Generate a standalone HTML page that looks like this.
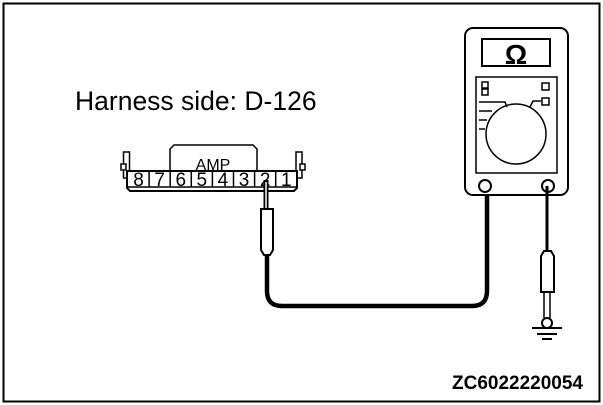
<!DOCTYPE html>
<html><head><meta charset="utf-8"><style>
html,body{margin:0;padding:0;background:#fff;}
svg{display:block;}
text{font-family:"Liberation Sans",Arial,sans-serif;}
</style></head><body>
<svg width="603" height="405" viewBox="0 0 603 405">
<rect x="3.5" y="3.5" width="596" height="398" fill="#fff" stroke="#000" stroke-width="2"/>
<text x="75" y="110" font-size="26.5">Harness side: D-126</text>
<text x="452" y="389" font-size="19" font-weight="bold">ZC6022220054</text>

<g fill="none" stroke="#000" stroke-width="1.5">
  <path d="M170 171 V149 L174 145 H253 L257 149 V171" />
  <rect x="123.5" y="152" width="6" height="26" fill="#fff"/>
  <rect x="296" y="152" width="6" height="26" fill="#fff"/>
  <rect x="121" y="164" width="5" height="6" fill="#fff"/>
  <rect x="300" y="164" width="5" height="6" fill="#fff"/>
  <path d="M127 171 H297 V188 L294 191 H130 L127 188 Z" fill="#fff" stroke-width="2"/>
  <line x1="128" y1="187" x2="296" y2="187"/>
</g>
<text x="213" y="170" style="font-size:16px" text-anchor="middle">AMP</text>
<g id="pins"></g>

<g fill="none" stroke="#000">
  <line x1="266" y1="180" x2="266" y2="208" stroke-width="5"/>
  <line x1="266" y1="182" x2="266" y2="208" stroke="#fff" stroke-width="1.5"/>
  <path d="M261 209 H273 V250 L270 255 H264 L261 250 Z" fill="#fff" stroke-width="2"/>
  <path d="M267 255 V291 Q267 306 282 306 H472 Q487 306 487 291 V186" stroke-width="4.5"/>
</g>

<g fill="none" stroke="#000" stroke-width="2">
  <rect x="465" y="28" width="103" height="167" rx="8" fill="#fff"/>
  <rect x="482" y="39" width="68" height="27"/>
  <text x="516" y="64" font-size="28" font-weight="bold" text-anchor="middle" fill="#000" stroke="none">Ω</text>
  <rect x="476" y="77" width="81" height="96" stroke-width="1.5"/>
  <rect x="482" y="82" width="6" height="6" stroke-width="1.5"/>
  <rect x="482" y="89" width="6" height="6" stroke-width="1.5"/>
  <rect x="542" y="83" width="7" height="7" stroke-width="1.5"/>
  <rect x="542" y="98" width="7" height="7" stroke-width="1.5"/>
  <path d="M479 102 H505 L507 107 M541 101 H533 L530 107 M479 111 H492 M479 120 H487 M479 129 H485" stroke-width="1.5"/>
  <circle cx="516" cy="134" r="30" stroke-width="1.5"/>
  <circle cx="485" cy="186" r="6" fill="#fff"/>
  <circle cx="548" cy="186" r="6" fill="#fff"/>
</g>

<g fill="none" stroke="#000">
  <line x1="547" y1="186" x2="547" y2="251" stroke-width="3"/>
  <path d="M541 256 L544 251 H551 L554 256 V292 H541 Z" fill="#fff" stroke-width="2"/>
  <line x1="544" y1="292" x2="544" y2="318" stroke-width="1.5"/>
  <line x1="550" y1="292" x2="550" y2="318" stroke-width="1.5"/>
  <circle cx="547" cy="323" r="5" fill="#fff" stroke-width="2"/>
  <line x1="532" y1="328" x2="562" y2="328" stroke-width="2"/>
  <line x1="537" y1="334" x2="557" y2="334" stroke-width="2"/>
  <line x1="542" y1="339" x2="552" y2="339" stroke-width="2"/>
</g>
<script>
const pinLabels = ["8","7","6","5","4","3","2","1"];
const g = document.getElementById('pins');


const x0 = 128, w = 21.1;
pinLabels.forEach((p, i) => {
  const ns = 'http://www.w3.org/2000/svg';
  if (i > 0) {
    const l = document.createElementNS(ns, 'line');
    l.setAttribute('x1', x0 + i * w); l.setAttribute('x2', x0 + i * w);
    l.setAttribute('y1', 171); l.setAttribute('y2', 187);
    l.setAttribute('stroke', '#000'); l.setAttribute('stroke-width', '1.5');
    
    
    g.appendChild(l);
  }
  const t = document.createElementNS(ns, 'text');
  t.setAttribute('x', x0 + i * w + w / 2); t.setAttribute('y', 186);
  t.setAttribute('style', 'font-size:19px');
  t.setAttribute('text-anchor', 'middle');
  t.textContent = p;
  
  
  g.appendChild(t);
});
</script>
</svg>
</body></html>
